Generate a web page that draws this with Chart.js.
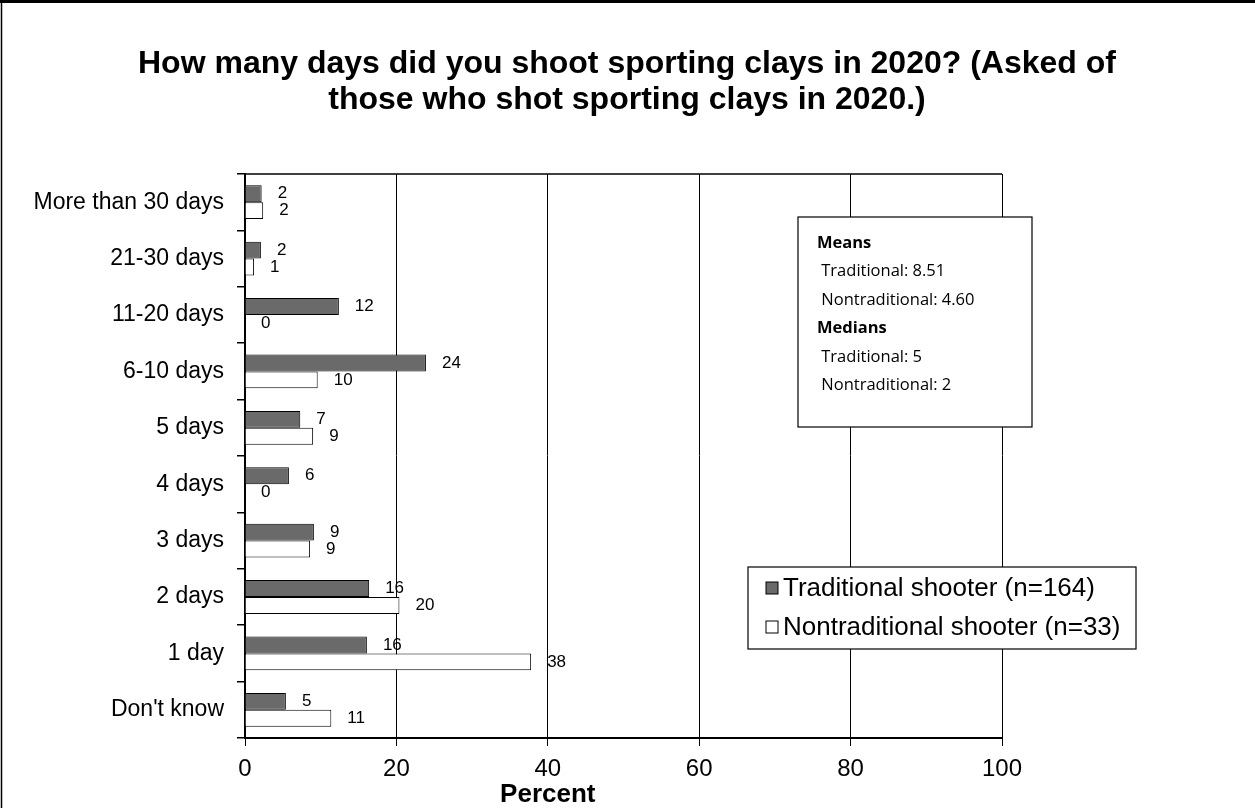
<!DOCTYPE html>
<html>
<head>
<meta charset="utf-8">
<script src="https://cdn.jsdelivr.net/npm/chart.js@4"></script>
<style>
  html, body { margin: 0; padding: 0; background: #fff; }
  #wrap { width: 1255px; height: 808px; }
</style>
</head>
<body>
<div id="wrap"><canvas id="myChart" width="1255" height="808"></canvas></div>
<script>
// values (percent)
var categories = ['More than 30 days', '21-30 days', '11-20 days', '6-10 days', '5 days',
                  '4 days', '3 days', '2 days', '1 day', "Don't know"];
var traditional = [2.2, 2.1, 12.4, 23.9, 7.3, 5.8, 9.1, 16.4, 16.1, 5.4];
var nontraditional = [2.4, 1.2, 0, 9.6, 9.0, 0, 8.6, 20.4, 37.8, 11.4];
var seriesNames = ['Traditional shooter (n=164)', 'Nontraditional shooter (n=33)'];
var xTicks = [0, 20, 40, 60, 80, 100];
var titleLines = ['How many days did you shoot sporting clays in 2020? (Asked of',
                  'those who shot sporting clays in 2020.)'];
var statsLines = [
    ['Means', true], [' Traditional: 8.51', false], [' Nontraditional: 4.60', false],
    ['Medians', true], [' Traditional: 5', false], [' Nontraditional: 2', false]
];

var ARIAL = '"Liberation Sans", Arial, sans-serif';

var extras = {
    id: 'extras',
    beforeDraw: function (chart) {
        var ctx = chart.ctx;
        ctx.save();
        ctx.fillStyle = '#fff';
        ctx.fillRect(0, 0, chart.width, chart.height);
        // outer frame (top + left)
        ctx.strokeStyle = '#000';
        ctx.lineWidth = 3;
        ctx.beginPath(); ctx.moveTo(0, 1.5); ctx.lineTo(chart.width, 1.5); ctx.stroke();
        ctx.lineWidth = 1.5;
        ctx.beginPath(); ctx.moveTo(1.5, 0); ctx.lineTo(1.5, chart.height); ctx.stroke();

        // title, centred on the whole frame
        ctx.fillStyle = '#000';
        ctx.font = 'bold 32px ' + ARIAL;
        ctx.textAlign = 'center';
        ctx.textBaseline = 'middle';
        titleLines.forEach(function (t, i) {
            ctx.fillText(t, 627, 64 + i * 36);
        });
        ctx.restore();
    },
    afterDraw: function (chart) {
        var ctx = chart.ctx, area = chart.chartArea;
        var xs = chart.scales.x;
        ctx.save();
        // plot top border
        ctx.strokeStyle = '#000';
        ctx.lineWidth = 1.5;
        ctx.beginPath(); ctx.moveTo(area.left, area.top); ctx.lineTo(area.right, area.top); ctx.stroke();

        // value labels
        ctx.fillStyle = '#000';
        ctx.font = '17px ' + ARIAL;
        ctx.textAlign = 'left';
        ctx.textBaseline = 'middle';
        chart.data.datasets.forEach(function (ds, i) {
            chart.getDatasetMeta(i).data.forEach(function (bar, j) {
                ctx.fillText(String(Math.round(ds.data[j])), bar.x + 16, bar.y);
            });
        });

        // axis title
        ctx.font = 'bold 26px ' + ARIAL;
        ctx.textAlign = 'center';
        ctx.textBaseline = 'alphabetic';
        ctx.fillText('Percent', xs.getPixelForValue(40), 802);

        // stats box
        var bx = 798, by = 217, bw = 234, bh = 210;
        ctx.textBaseline = 'middle';
        ctx.fillStyle = '#fff';
        ctx.fillRect(bx, by, bw, bh);
        ctx.lineWidth = 1.2;
        ctx.strokeRect(bx, by, bw, bh);
        ctx.fillStyle = '#000';
        ctx.textAlign = 'left';
        statsLines.forEach(function (ln, k) {
            ctx.font = (ln[1] ? 'bold ' : '') + '16.5px "Open Sans", "Noto Sans", sans-serif';
            ctx.fillText(ln[0], bx + 19, by + 26 + k * 28.5);
        });

        // legend box
        var lx = 748, ly = 567, lw = 388, lh = 82;
        ctx.fillStyle = '#fff';
        ctx.fillRect(lx, ly, lw, lh);
        ctx.strokeRect(lx, ly, lw, lh);
        ctx.font = '26px ' + ARIAL;
        chart.data.datasets.forEach(function (ds, i) {
            var cy = ly + 21 + i * 39;
            ctx.fillStyle = ds.backgroundColor;
            ctx.fillRect(lx + 18, cy - 6, 12, 12);
            ctx.strokeStyle = '#000';
            ctx.lineWidth = 1;
            ctx.strokeRect(lx + 18, cy - 6, 12, 12);
            ctx.fillStyle = '#000';
            ctx.fillText(ds.label, lx + 35, cy + 1);
        });
        ctx.restore();
    }
};

var ctx = document.getElementById('myChart').getContext('2d');
var chart = new Chart(ctx, {
    type: 'bar',
    data: {
        labels: categories,
        datasets: [{
            label: seriesNames[0],
            data: traditional,
            backgroundColor: '#6a6a6a',
            borderColor: '#000',
            borderWidth: 1
        }, {
            label: seriesNames[1],
            data: nontraditional,
            backgroundColor: '#ffffff',
            borderColor: '#000',
            borderWidth: 1
        }]
    },
    options: {
        indexAxis: 'y',
        responsive: false,
        animation: false,
        layout: { padding: { left: 0, right: 253, top: 174, bottom: 0 } },
        datasets: { bar: { barPercentage: 1, categoryPercentage: 0.6 } },
        plugins: {
            legend: { display: false },
            tooltip: { enabled: false },
            title: { display: false }
        },
        scales: {
            x: {
                min: 0, max: 100,
                afterBuildTicks: function (s) { s.ticks = xTicks.map(function (v) { return { value: v }; }); },
                afterFit: function (s) { s.height = 70; },
                grid: { color: '#000', lineWidth: 1, drawOnChartArea: true, drawTicks: true, tickLength: 8 },
                border: { display: true, color: '#000', width: 2 },
                ticks: { color: '#000', padding: 9, font: { family: ARIAL, size: 24 } }
            },
            y: {
                afterFit: function (s) { s.width = 245; },
                grid: { offset: true, drawOnChartArea: false, drawTicks: true, tickLength: 8, color: '#000', lineWidth: 1.5 },
                border: { display: true, color: '#000', width: 2 },
                ticks: { color: '#000', padding: 13, font: { family: ARIAL, size: 23 } }
            }
        }
    },
    plugins: [extras]
});
</script>
</body>
</html>
